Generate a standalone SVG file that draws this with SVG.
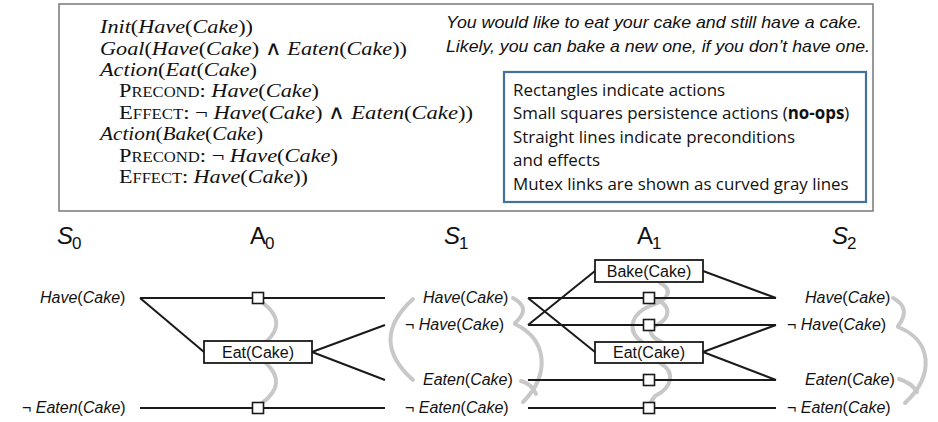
<svg xmlns="http://www.w3.org/2000/svg" width="938" height="422" viewBox="0 0 938 422">
<style>
.tex{font-family:"Liberation Serif",serif;font-size:19.5px;fill:#111}
.it{font-style:italic}
.sc{font-size:14.5px}
.note{font-family:"Liberation Sans",sans-serif;font-style:italic;font-size:17px;fill:#111}
.leg{font-family:"Open Sans","Liberation Sans",sans-serif;font-size:16.9px;fill:#111}
.hdr{font-family:"Liberation Sans",sans-serif;font-size:24px;fill:#111}
.sub{font-size:17px}
.lab{font-family:"Liberation Sans",sans-serif;font-size:16px;fill:#111}
.act{font-family:"Liberation Sans",sans-serif;font-size:16px;fill:#111;text-anchor:middle}
.ln{stroke:#1a1a1a;stroke-width:2;fill:none}
.box{fill:#fff;stroke:#1a1a1a;stroke-width:1.8}
.sq{fill:#fff;stroke:#1a1a1a;stroke-width:1.6}
.mx{stroke:#c8c8c8;stroke-width:4;fill:none;stroke-linecap:round}
</style>

<g id="header-box">
<rect x="59" y="4" width="814" height="207" fill="#fff" stroke="#777" stroke-width="1.5"/>
</g>

<g id="domain-text">
<text class="tex it" x="100" y="33" textLength="153" lengthAdjust="spacingAndGlyphs">Init<tspan font-style="normal">(</tspan>Have<tspan font-style="normal">(</tspan>Cake<tspan font-style="normal">))</tspan></text>
<text class="tex it" x="100" y="55" textLength="307" lengthAdjust="spacingAndGlyphs">Goal<tspan font-style="normal">(</tspan>Have<tspan font-style="normal">(</tspan>Cake<tspan font-style="normal">) ∧ </tspan>Eaten<tspan font-style="normal">(</tspan>Cake<tspan font-style="normal">))</tspan></text>
<text class="tex it" x="100" y="76" textLength="157" lengthAdjust="spacingAndGlyphs">Action<tspan font-style="normal">(</tspan>Eat<tspan font-style="normal">(</tspan>Cake<tspan font-style="normal">)</tspan></text>
<text class="tex" x="119" y="97" textLength="200" lengthAdjust="spacingAndGlyphs">P<tspan class="sc">RECOND</tspan>: <tspan class="it">Have</tspan>(<tspan class="it">Cake</tspan>)</text>
<text class="tex" x="119" y="119" textLength="354" lengthAdjust="spacingAndGlyphs">E<tspan class="sc">FFECT</tspan>: ¬ <tspan class="it">Have</tspan>(<tspan class="it">Cake</tspan>) ∧ <tspan class="it">Eaten</tspan>(<tspan class="it">Cake</tspan>))</text>
<text class="tex it" x="100" y="140" textLength="163" lengthAdjust="spacingAndGlyphs">Action<tspan font-style="normal">(</tspan>Bake<tspan font-style="normal">(</tspan>Cake<tspan font-style="normal">)</tspan></text>
<text class="tex" x="119" y="162" textLength="219" lengthAdjust="spacingAndGlyphs">P<tspan class="sc">RECOND</tspan>: ¬ <tspan class="it">Have</tspan>(<tspan class="it">Cake</tspan>)</text>
<text class="tex" x="119" y="183" textLength="189" lengthAdjust="spacingAndGlyphs">E<tspan class="sc">FFECT</tspan>: <tspan class="it">Have</tspan>(<tspan class="it">Cake</tspan>))</text>
</g>

<g id="note">
<text class="note" x="446" y="28" textLength="416" lengthAdjust="spacingAndGlyphs">You would like to eat your cake and still have a cake.</text>
<text class="note" x="446" y="52" textLength="424" lengthAdjust="spacingAndGlyphs">Likely, you can bake a new one, if you don’t have one.</text>
</g>

<g id="legend">
<rect x="504" y="72" width="362" height="130" fill="#fff" stroke="#41719c" stroke-width="2.2"/>
<text class="leg" x="513" y="96">Rectangles indicate actions</text>
<text class="leg" x="513" y="119">Small squares persistence actions (<tspan font-weight="bold">no-ops</tspan>)</text>
<text class="leg" x="513" y="143">Straight lines indicate preconditions</text>
<text class="leg" x="513" y="166">and effects</text>
<text class="leg" x="513" y="190">Mutex links are shown as curved gray lines</text>
</g>

<g id="headers">
<text class="hdr" x="57" y="244"><tspan font-style="italic">S</tspan><tspan class="sub" dx="-1" dy="5">0</tspan></text>
<text class="hdr" x="250" y="244">A<tspan class="sub" dx="-1" dy="5">0</tspan></text>
<text class="hdr" x="444" y="244"><tspan font-style="italic">S</tspan><tspan class="sub" dx="-1" dy="5">1</tspan></text>
<text class="hdr" x="637" y="244">A<tspan class="sub" dx="-1" dy="5">1</tspan></text>
<text class="hdr" x="832" y="244"><tspan font-style="italic">S</tspan><tspan class="sub" dx="-1" dy="5">2</tspan></text>
</g>

<g id="mutex">
<path class="mx" d="M263,303 Q288,322 266,342"/>
<path class="mx" d="M266,363 Q288,384 262,403"/>
<path class="mx" d="M413,299 Q368,340 413,380"/>
<path class="mx" d="M513,298 Q532,308 515,323"/>
<path class="mx" d="M515,324 C548,340 550,375 523,402"/>
<path class="mx" d="M521,381 Q532,384 536,394"/>
<path class="mx" d="M893,298 Q912,308 898,326"/>
<path class="mx" d="M898,327 C932,340 935,375 905,403"/>
<path class="mx" d="M899,379 Q912,383 917,392"/>
<path class="mx" d="M660,283 C674,290 668,300 652,305 C628,315 628,332 642,342"/>
<path class="mx" d="M652,298 C672,304 672,318 655,326 C646,330 652,338 662,342"/>
<path class="mx" d="M660,363 C676,372 672,388 655,396 L650,403"/>
</g>

<g id="connectors">
<line class="ln" x1="140" y1="298" x2="385" y2="298"/>
<line class="ln" x1="140" y1="408" x2="385" y2="408"/>
<line class="ln" x1="140" y1="298" x2="204" y2="352"/>
<line class="ln" x1="312" y1="352" x2="385" y2="325"/>
<line class="ln" x1="312" y1="352" x2="385" y2="380"/>
<line class="ln" x1="528" y1="298" x2="776" y2="298"/>
<line class="ln" x1="528" y1="325" x2="776" y2="325"/>
<line class="ln" x1="528" y1="380" x2="776" y2="380"/>
<line class="ln" x1="528" y1="408" x2="776" y2="408"/>
<line class="ln" x1="528" y1="298" x2="595" y2="352"/>
<line class="ln" x1="528" y1="325" x2="595" y2="271"/>
<line class="ln" x1="703" y1="271" x2="776" y2="298"/>
<line class="ln" x1="703" y1="352" x2="776" y2="325"/>
<line class="ln" x1="703" y1="352" x2="776" y2="380"/>
</g>

<g id="a0-eat">
<rect class="box" x="204" y="341" width="108" height="22"/>
<text class="act" x="258" y="358">Eat(Cake)</text>
</g>
<g id="a0-noop-have"><rect class="sq" x="252.5" y="292.5" width="11" height="11"/></g>
<g id="a0-noop-noteaten"><rect class="sq" x="252.5" y="402.5" width="11" height="11"/></g>

<g id="a1-bake">
<rect class="box" x="595" y="260" width="108" height="22"/>
<text class="act" x="649" y="277">Bake(Cake)</text>
</g>
<g id="a1-eat">
<rect class="box" x="595" y="342" width="108" height="21"/>
<text class="act" x="649" y="358">Eat(Cake)</text>
</g>
<g id="a1-noop-have"><rect class="sq" x="643.5" y="292.5" width="11" height="11"/></g>
<g id="a1-noop-nothave"><rect class="sq" x="643.5" y="319.5" width="11" height="11"/></g>
<g id="a1-noop-eaten"><rect class="sq" x="643.5" y="374.5" width="11" height="11"/></g>
<g id="a1-noop-noteaten"><rect class="sq" x="643.5" y="402.5" width="11" height="11"/></g>

<g id="s0-have"><text class="lab" x="40" y="303"><tspan font-style="italic">Have</tspan>(<tspan font-style="italic">Cake</tspan>)</text></g>
<g id="s0-noteaten"><text class="lab" x="22" y="413">¬ <tspan font-style="italic">Eaten</tspan>(<tspan font-style="italic">Cake</tspan>)</text></g>

<g id="s1-have"><text class="lab" x="423" y="303"><tspan font-style="italic">Have</tspan>(<tspan font-style="italic">Cake</tspan>)</text></g>
<g id="s1-nothave"><text class="lab" x="405" y="330">¬ <tspan font-style="italic">Have</tspan>(<tspan font-style="italic">Cake</tspan>)</text></g>
<g id="s1-eaten"><text class="lab" x="423" y="385"><tspan font-style="italic">Eaten</tspan>(<tspan font-style="italic">Cake</tspan>)</text></g>
<g id="s1-noteaten"><text class="lab" x="405" y="413">¬ <tspan font-style="italic">Eaten</tspan>(<tspan font-style="italic">Cake</tspan>)</text></g>

<g id="s2-have"><text class="lab" x="805" y="303"><tspan font-style="italic">Have</tspan>(<tspan font-style="italic">Cake</tspan>)</text></g>
<g id="s2-nothave"><text class="lab" x="787" y="330">¬ <tspan font-style="italic">Have</tspan>(<tspan font-style="italic">Cake</tspan>)</text></g>
<g id="s2-eaten"><text class="lab" x="805" y="385"><tspan font-style="italic">Eaten</tspan>(<tspan font-style="italic">Cake</tspan>)</text></g>
<g id="s2-noteaten"><text class="lab" x="787" y="413">¬ <tspan font-style="italic">Eaten</tspan>(<tspan font-style="italic">Cake</tspan>)</text></g>
</svg>
